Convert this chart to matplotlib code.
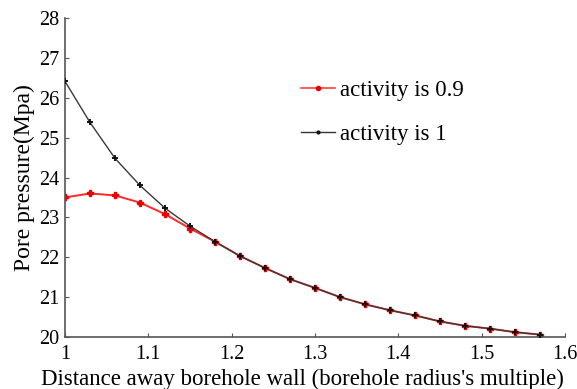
import matplotlib
matplotlib.use("Agg")
import matplotlib.pyplot as plt
from matplotlib.lines import Line2D

# Distance from borehole wall, in multiples of borehole radius
distance = [1.00, 1.03, 1.06, 1.09, 1.12, 1.15, 1.18, 1.21, 1.24, 1.27,
            1.30, 1.33, 1.36, 1.39, 1.42, 1.45, 1.48, 1.51, 1.54, 1.57]

# Pore pressure (MPa) for the two activity values
pressure_act_09 = [23.50, 23.60, 23.55, 23.37, 23.08, 22.72, 22.39, 22.03, 21.73, 21.45,
                   21.23, 21.00, 20.82, 20.67, 20.54, 20.39, 20.28, 20.21, 20.12, 20.06]
pressure_act_1 = [26.41, 25.38, 24.48, 23.80, 23.23, 22.78, 22.39, 22.03, 21.73, 21.45,
                  21.23, 21.00, 20.82, 20.67, 20.54, 20.39, 20.28, 20.21, 20.12, 20.06]

x_ticks = [1.0, 1.1, 1.2, 1.3, 1.4, 1.5, 1.6]
x_tick_labels = ["1", "1.1", "1.2", "1.3", "1.4", "1.5", "1.6"]
y_ticks = [20, 21, 22, 23, 24, 25, 26, 27, 28]

plt.rcParams["font.family"] = ["Liberation Serif", "DejaVu Serif"]
FS = 16.5
TICK_FS = 14.5

fig = plt.figure(figsize=(5.77, 3.89), dpi=100)
ax = fig.add_axes([0.1127, 0.1337, 0.8666, 0.82])

ax.plot(distance, pressure_act_09, color="#ff2a2a", lw=1.4, marker="P",
        ms=4.5, mec="#ee0000", mfc="#ee0000", zorder=2)
ax.plot(distance, pressure_act_1, color="#3a3a3a", lw=1.0, marker="+",
        ms=5, mew=1.4, mec="#111111", zorder=3)

ax.set_xlim(1.0, 1.6)
ax.set_ylim(20, 28)
ax.set_xticks(x_ticks)
ax.set_xticklabels(x_tick_labels)
ax.set_yticks(y_ticks)

for side in ("top", "right"):
    ax.spines[side].set_visible(False)
for side in ("left", "bottom"):
    ax.spines[side].set_color("#555555")
    ax.spines[side].set_linewidth(1.2)

ax.tick_params(direction="in", length=3, width=0.8, color="#555555",
               labelsize=TICK_FS, pad=4)
ax.tick_params(axis="x", pad=6)

ax.set_xlabel("Distance away borehole wall (borehole radius's multiple)",
              fontsize=FS)
ax.xaxis.set_label_coords(0.474, -0.10)
ax.set_ylabel("Pore pressure(Mpa)", fontsize=FS + 0.5, labelpad=3)

handles = [
    Line2D([], [], color="#ff4040", lw=1.2, marker=".", ms=6, mfc="#ee0000", mec="#ee0000"),
    Line2D([], [], color="#333333", lw=1.0, marker=".", ms=4, mfc="#111111", mec="#111111"),
]
ax.legend(handles, ["activity is 0.9", "activity is 1"], loc="upper left",
          bbox_to_anchor=(0.43, 0.87), frameon=False, fontsize=FS,
          handlelength=1.5, handletextpad=0.2, labelspacing=1.0)

fig.savefig("out.png", dpi=100)
